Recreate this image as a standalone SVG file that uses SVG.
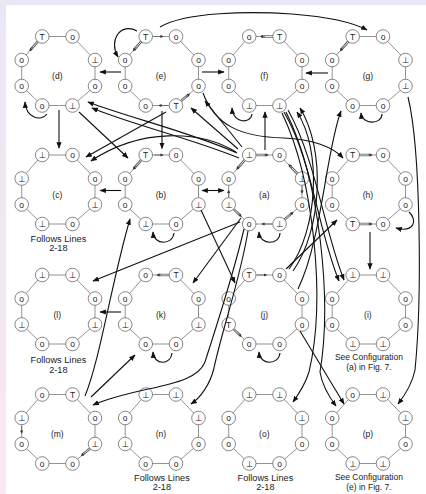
<svg xmlns="http://www.w3.org/2000/svg" width="426" height="494" viewBox="0 0 426 494">
<defs>
<linearGradient id="lg" x1="0" y1="0" x2="0" y2="1"><stop offset="0" stop-color="#ebe6f6"/><stop offset="1" stop-color="#f9e8f1"/></linearGradient>
<marker id="ah" viewBox="0 0 10 10" refX="9" refY="5" markerWidth="6.5" markerHeight="6.5" markerUnits="userSpaceOnUse" orient="auto-start-reverse"><path d="M0,1 L10,5 L0,9 z" fill="#111"/></marker>
<marker id="ta" viewBox="0 0 10 10" refX="8" refY="5" markerWidth="3.2" markerHeight="3.2" markerUnits="userSpaceOnUse" orient="auto"><path d="M0,0 L10,5 L0,10 z" fill="#333"/></marker>
</defs>
<style>
.oct{fill:none;stroke:#666;stroke-width:0.7}
.c{fill:#fff;stroke:#555;stroke-width:0.7}
.t{font-family:"Liberation Sans","DejaVu Sans",sans-serif;font-size:8.5px;text-anchor:middle;fill:#222}
.lb{font-family:"Liberation Sans","DejaVu Sans",sans-serif;font-size:8.5px;text-anchor:middle;fill:#222}
.fl{font-family:"Liberation Sans","DejaVu Sans",sans-serif;font-size:9.2px;text-anchor:middle;fill:#222}
.dbl{fill:none;stroke:#555;stroke-width:2.4}
.dbw{fill:none;stroke:#fff;stroke-width:0.9}
.sa{fill:none;stroke:#555;stroke-width:0.7;marker-end:url(#ta)}
.cn path{fill:none;stroke:#111;stroke-width:1.1;marker-end:url(#ah)}
</style>
<rect width="426" height="494" fill="#fff"/>
<rect width="426" height="5" fill="#ebe6f6"/>
<rect width="6" height="494" fill="url(#lg)"/>

<g id="d">
<polygon class="oct" points="42.2,36.5 72.5,36.5 95,60 95,86 72.5,105.5 42.2,105.5 21.7,86 21.7,60"/>
<path class="dbl" d="M37.9,41.4 L30.5,49.9"/><path class="dbw" d="M37.9,41.4 L30.5,49.9"/><path class="sa" d="M33,47 L29.8,50.7"/>
<circle class="c" cx="42.2" cy="36.5" r="6.8"/><text class="t" x="42.2" y="39.5">T</text>
<circle class="c" cx="72.5" cy="36.5" r="6.8"/><text class="t" x="72.5" y="39.5">o</text>
<circle class="c" cx="95" cy="60" r="6.8"/><text class="t" x="95" y="63">⊥</text>
<circle class="c" cx="95" cy="86" r="6.8"/><text class="t" x="95" y="89">o</text>
<circle class="c" cx="72.5" cy="105.5" r="6.8"/><text class="t" x="72.5" y="108.5">⊥</text>
<circle class="c" cx="42.2" cy="105.5" r="6.8"/><text class="t" x="42.2" y="108.5">o</text>
<circle class="c" cx="21.7" cy="86" r="6.8"/><text class="t" x="21.7" y="89">o</text>
<circle class="c" cx="21.7" cy="60" r="6.8"/><text class="t" x="21.7" y="63">o</text>
<text class="lb" x="57.3" y="79">(d)</text>
</g>

<g id="e">
<polygon class="oct" points="145.7,36.5 176,36.5 198.5,60 198.5,86 176,105.5 145.7,105.5 125.2,86 125.2,60"/>
<path class="sa" d="M154,36.5 L163,36.5"/>
<path class="dbl" d="M141.4,41.4 L134,49.9"/><path class="dbw" d="M141.4,41.4 L134,49.9"/><path class="sa" d="M136.5,47 L133.3,50.7"/>
<path class="dbl" d="M180.9,101.2 L188.7,94.5"/><path class="dbw" d="M180.9,101.2 L188.7,94.5"/><path class="sa" d="M186,96.8 L189.5,93.8"/>
<path class="sa" d="M168,105.5 L159,105.5"/>
<circle class="c" cx="145.7" cy="36.5" r="6.8"/><text class="t" x="145.7" y="39.5">T</text>
<circle class="c" cx="176" cy="36.5" r="6.8"/><text class="t" x="176" y="39.5">o</text>
<circle class="c" cx="198.5" cy="60" r="6.8"/><text class="t" x="198.5" y="63">o</text>
<circle class="c" cx="198.5" cy="86" r="6.8"/><text class="t" x="198.5" y="89">o</text>
<circle class="c" cx="176" cy="105.5" r="6.8"/><text class="t" x="176" y="108.5">T</text>
<circle class="c" cx="145.7" cy="105.5" r="6.8"/><text class="t" x="145.7" y="108.5">o</text>
<circle class="c" cx="125.2" cy="86" r="6.8"/><text class="t" x="125.2" y="89">o</text>
<circle class="c" cx="125.2" cy="60" r="6.8"/><text class="t" x="125.2" y="63">o</text>
<text class="lb" x="160.9" y="79">(e)</text>
</g>

<g id="f">
<polygon class="oct" points="249.2,36.5 279.5,36.5 302,60 302,86 279.5,105.5 249.2,105.5 228.7,86 228.7,60"/>
<path class="dbl" d="M273,36.5 L261.5,36.5"/><path class="dbw" d="M273,36.5 L261.5,36.5"/><path class="sa" d="M265,36.5 L260.5,36.5"/>
<circle class="c" cx="249.2" cy="36.5" r="6.8"/><text class="t" x="249.2" y="39.5">o</text>
<circle class="c" cx="279.5" cy="36.5" r="6.8"/><text class="t" x="279.5" y="39.5">T</text>
<circle class="c" cx="302" cy="60" r="6.8"/><text class="t" x="302" y="63">o</text>
<circle class="c" cx="302" cy="86" r="6.8"/><text class="t" x="302" y="89">o</text>
<circle class="c" cx="279.5" cy="105.5" r="6.8"/><text class="t" x="279.5" y="108.5">⊥</text>
<circle class="c" cx="249.2" cy="105.5" r="6.8"/><text class="t" x="249.2" y="108.5">⊥</text>
<circle class="c" cx="228.7" cy="86" r="6.8"/><text class="t" x="228.7" y="89">o</text>
<circle class="c" cx="228.7" cy="60" r="6.8"/><text class="t" x="228.7" y="63">o</text>
<text class="lb" x="264.3" y="79">(f)</text>
</g>

<g id="g">
<polygon class="oct" points="352.7,36.5 383,36.5 405.5,60 405.5,86 383,105.5 352.7,105.5 332.2,86 332.2,60"/>
<path class="dbl" d="M348.4,41.4 L341,49.9"/><path class="dbw" d="M348.4,41.4 L341,49.9"/><path class="sa" d="M343.5,47 L340.3,50.7"/>
<circle class="c" cx="352.7" cy="36.5" r="6.8"/><text class="t" x="352.7" y="39.5">T</text>
<circle class="c" cx="383" cy="36.5" r="6.8"/><text class="t" x="383" y="39.5">o</text>
<circle class="c" cx="405.5" cy="60" r="6.8"/><text class="t" x="405.5" y="63">⊥</text>
<circle class="c" cx="405.5" cy="86" r="6.8"/><text class="t" x="405.5" y="89">⊥</text>
<circle class="c" cx="383" cy="105.5" r="6.8"/><text class="t" x="383" y="108.5">o</text>
<circle class="c" cx="352.7" cy="105.5" r="6.8"/><text class="t" x="352.7" y="108.5">o</text>
<circle class="c" cx="332.2" cy="86" r="6.8"/><text class="t" x="332.2" y="89">o</text>
<circle class="c" cx="332.2" cy="60" r="6.8"/><text class="t" x="332.2" y="63">o</text>
<text class="lb" x="367.9" y="79">(g)</text>
</g>

<g id="c">
<polygon class="oct" points="42.2,155 72.5,155 95,178.5 95,204.5 72.5,224 42.2,224 21.7,204.5 21.7,178.5"/>
<circle class="c" cx="42.2" cy="155" r="6.8"/><text class="t" x="42.2" y="158">⊥</text>
<circle class="c" cx="72.5" cy="155" r="6.8"/><text class="t" x="72.5" y="158">o</text>
<circle class="c" cx="95" cy="178.5" r="6.8"/><text class="t" x="95" y="181.5">o</text>
<circle class="c" cx="95" cy="204.5" r="6.8"/><text class="t" x="95" y="207.5">⊥</text>
<circle class="c" cx="72.5" cy="224" r="6.8"/><text class="t" x="72.5" y="227">o</text>
<circle class="c" cx="42.2" cy="224" r="6.8"/><text class="t" x="42.2" y="227">⊥</text>
<circle class="c" cx="21.7" cy="204.5" r="6.8"/><text class="t" x="21.7" y="207.5">o</text>
<circle class="c" cx="21.7" cy="178.5" r="6.8"/><text class="t" x="21.7" y="181.5">⊥</text>
<text class="lb" x="57.3" y="197.5">(c)</text>
<text class="fl" x="58.4" y="241.5">Follows Lines</text>
<text class="fl" x="58.4" y="251">2-18</text>
</g>

<g id="b">
<polygon class="oct" points="145.7,155 176,155 198.5,178.5 198.5,204.5 176,224 145.7,224 125.2,204.5 125.2,178.5"/>
<path class="dbl" d="M141.4,159.9 L134,168.4"/><path class="dbw" d="M141.4,159.9 L134,168.4"/><path class="sa" d="M136.5,165.5 L133.3,169.2"/>
<path class="sa" d="M154,155 L163,155"/>
<circle class="c" cx="145.7" cy="155" r="6.8"/><text class="t" x="145.7" y="158">T</text>
<circle class="c" cx="176" cy="155" r="6.8"/><text class="t" x="176" y="158">o</text>
<circle class="c" cx="198.5" cy="178.5" r="6.8"/><text class="t" x="198.5" y="181.5">o</text>
<circle class="c" cx="198.5" cy="204.5" r="6.8"/><text class="t" x="198.5" y="207.5">⊥</text>
<circle class="c" cx="176" cy="224" r="6.8"/><text class="t" x="176" y="227">o</text>
<circle class="c" cx="145.7" cy="224" r="6.8"/><text class="t" x="145.7" y="227">⊥</text>
<circle class="c" cx="125.2" cy="204.5" r="6.8"/><text class="t" x="125.2" y="207.5">o</text>
<circle class="c" cx="125.2" cy="178.5" r="6.8"/><text class="t" x="125.2" y="181.5">o</text>
<text class="lb" x="160.9" y="197.5">(b)</text>
</g>

<g id="a">
<polygon class="oct" points="249.2,155 279.5,155 302,178.5 302,204.5 279.5,224 249.2,224 228.7,204.5 228.7,178.5"/>
<path class="dbl" d="M255.7,155 L267,155"/><path class="dbw" d="M255.7,155 L267,155"/><path class="sa" d="M264,155 L268,155"/>
<path class="dbl" d="M244.9,159.9 L237.5,168.4"/><path class="dbw" d="M244.9,159.9 L237.5,168.4"/><path class="sa" d="M240,165.5 L236.8,169.2"/>
<path class="sa" d="M228.7,197 L228.7,190.5"/>
<path class="dbl" d="M233.4,209 L240.5,215.7"/><path class="dbw" d="M233.4,209 L240.5,215.7"/><path class="sa" d="M238,213.4 L241.3,216.5"/>
<path class="sa" d="M272,224 L262,224"/>
<path class="dbl" d="M297.5,173.8 L289.5,165.4"/><path class="dbw" d="M297.5,173.8 L289.5,165.4"/><path class="sa" d="M292,168 L288.8,164.6"/>
<path class="sa" d="M302,186 L302,193"/>
<path class="dbl" d="M284.4,219.7 L292.3,212.9"/><path class="dbw" d="M284.4,219.7 L292.3,212.9"/><path class="sa" d="M289.5,215.3 L293,212.3"/>
<circle class="c" cx="249.2" cy="155" r="6.8"/><text class="t" x="249.2" y="158">⊥</text>
<circle class="c" cx="279.5" cy="155" r="6.8"/><text class="t" x="279.5" y="158">o</text>
<circle class="c" cx="302" cy="178.5" r="6.8"/><text class="t" x="302" y="181.5">⊥</text>
<circle class="c" cx="302" cy="204.5" r="6.8"/><text class="t" x="302" y="207.5">o</text>
<circle class="c" cx="279.5" cy="224" r="6.8"/><text class="t" x="279.5" y="227">⊥</text>
<circle class="c" cx="249.2" cy="224" r="6.8"/><text class="t" x="249.2" y="227">o</text>
<circle class="c" cx="228.7" cy="204.5" r="6.8"/><text class="t" x="228.7" y="207.5">⊥</text>
<circle class="c" cx="228.7" cy="178.5" r="6.8"/><text class="t" x="228.7" y="181.5">o</text>
<text class="lb" x="264.3" y="197.5">(a)</text>
</g>

<g id="h">
<polygon class="oct" points="352.7,155 383,155 405.5,178.5 405.5,204.5 383,224 352.7,224 332.2,204.5 332.2,178.5"/>
<path class="dbl" d="M359.2,155 L371,155"/><path class="dbw" d="M359.2,155 L371,155"/><path class="sa" d="M368,155 L372,155"/>
<path class="dbl" d="M359.2,224 L371,224"/><path class="dbw" d="M359.2,224 L371,224"/><path class="sa" d="M368,224 L372,224"/>
<circle class="c" cx="352.7" cy="155" r="6.8"/><text class="t" x="352.7" y="158">T</text>
<circle class="c" cx="383" cy="155" r="6.8"/><text class="t" x="383" y="158">o</text>
<circle class="c" cx="405.5" cy="178.5" r="6.8"/><text class="t" x="405.5" y="181.5">o</text>
<circle class="c" cx="405.5" cy="204.5" r="6.8"/><text class="t" x="405.5" y="207.5">o</text>
<circle class="c" cx="383" cy="224" r="6.8"/><text class="t" x="383" y="227">o</text>
<circle class="c" cx="352.7" cy="224" r="6.8"/><text class="t" x="352.7" y="227">T</text>
<circle class="c" cx="332.2" cy="204.5" r="6.8"/><text class="t" x="332.2" y="207.5">o</text>
<circle class="c" cx="332.2" cy="178.5" r="6.8"/><text class="t" x="332.2" y="181.5">o</text>
<text class="lb" x="367.9" y="197.5">(h)</text>
</g>

<g id="l">
<polygon class="oct" points="42.2,275 72.5,275 95,298.5 95,324.5 72.5,344 42.2,344 21.7,324.5 21.7,298.5"/>
<circle class="c" cx="42.2" cy="275" r="6.8"/><text class="t" x="42.2" y="278">⊥</text>
<circle class="c" cx="72.5" cy="275" r="6.8"/><text class="t" x="72.5" y="278">⊥</text>
<circle class="c" cx="95" cy="298.5" r="6.8"/><text class="t" x="95" y="301.5">o</text>
<circle class="c" cx="95" cy="324.5" r="6.8"/><text class="t" x="95" y="327.5">⊥</text>
<circle class="c" cx="72.5" cy="344" r="6.8"/><text class="t" x="72.5" y="347">o</text>
<circle class="c" cx="42.2" cy="344" r="6.8"/><text class="t" x="42.2" y="347">o</text>
<circle class="c" cx="21.7" cy="324.5" r="6.8"/><text class="t" x="21.7" y="327.5">⊥</text>
<circle class="c" cx="21.7" cy="298.5" r="6.8"/><text class="t" x="21.7" y="301.5">o</text>
<text class="lb" x="57.3" y="317.5">(l)</text>
<text class="fl" x="58.4" y="363">Follows Lines</text>
<text class="fl" x="58.4" y="372.5">2-18</text>
</g>

<g id="k">
<polygon class="oct" points="145.7,275 176,275 198.5,298.5 198.5,324.5 176,344 145.7,344 125.2,324.5 125.2,298.5"/>
<path class="dbl" d="M169.5,275 L158,275"/><path class="dbw" d="M169.5,275 L158,275"/><path class="sa" d="M161.5,275 L157,275"/>
<circle class="c" cx="145.7" cy="275" r="6.8"/><text class="t" x="145.7" y="278">o</text>
<circle class="c" cx="176" cy="275" r="6.8"/><text class="t" x="176" y="278">T</text>
<circle class="c" cx="198.5" cy="298.5" r="6.8"/><text class="t" x="198.5" y="301.5">o</text>
<circle class="c" cx="198.5" cy="324.5" r="6.8"/><text class="t" x="198.5" y="327.5">⊥</text>
<circle class="c" cx="176" cy="344" r="6.8"/><text class="t" x="176" y="347">o</text>
<circle class="c" cx="145.7" cy="344" r="6.8"/><text class="t" x="145.7" y="347">o</text>
<circle class="c" cx="125.2" cy="324.5" r="6.8"/><text class="t" x="125.2" y="327.5">⊥</text>
<circle class="c" cx="125.2" cy="298.5" r="6.8"/><text class="t" x="125.2" y="301.5">o</text>
<text class="lb" x="160.9" y="317.5">(k)</text>
</g>

<g id="j">
<polygon class="oct" points="249.2,275 279.5,275 302,298.5 302,324.5 279.5,344 249.2,344 228.7,324.5 228.7,298.5"/>
<path class="sa" d="M257,275 L266.5,275"/>
<path class="dbl" d="M233.4,329 L240.5,335.7"/><path class="dbw" d="M233.4,329 L240.5,335.7"/><path class="sa" d="M238,333.4 L241.3,336.5"/>
<circle class="c" cx="249.2" cy="275" r="6.8"/><text class="t" x="249.2" y="278">T</text>
<circle class="c" cx="279.5" cy="275" r="6.8"/><text class="t" x="279.5" y="278">o</text>
<circle class="c" cx="302" cy="298.5" r="6.8"/><text class="t" x="302" y="301.5">o</text>
<circle class="c" cx="302" cy="324.5" r="6.8"/><text class="t" x="302" y="327.5">o</text>
<circle class="c" cx="279.5" cy="344" r="6.8"/><text class="t" x="279.5" y="347">o</text>
<circle class="c" cx="249.2" cy="344" r="6.8"/><text class="t" x="249.2" y="347">o</text>
<circle class="c" cx="228.7" cy="324.5" r="6.8"/><text class="t" x="228.7" y="327.5">T</text>
<circle class="c" cx="228.7" cy="298.5" r="6.8"/><text class="t" x="228.7" y="301.5">o</text>
<text class="lb" x="264.3" y="317.5">(j)</text>
</g>

<g id="i">
<polygon class="oct" points="352.7,275 383,275 405.5,298.5 405.5,324.5 383,344 352.7,344 332.2,324.5 332.2,298.5"/>
<circle class="c" cx="352.7" cy="275" r="6.8"/><text class="t" x="352.7" y="278">⊥</text>
<circle class="c" cx="383" cy="275" r="6.8"/><text class="t" x="383" y="278">⊥</text>
<circle class="c" cx="405.5" cy="298.5" r="6.8"/><text class="t" x="405.5" y="301.5">o</text>
<circle class="c" cx="405.5" cy="324.5" r="6.8"/><text class="t" x="405.5" y="327.5">o</text>
<circle class="c" cx="383" cy="344" r="6.8"/><text class="t" x="383" y="347">⊥</text>
<circle class="c" cx="352.7" cy="344" r="6.8"/><text class="t" x="352.7" y="347">⊥</text>
<circle class="c" cx="332.2" cy="324.5" r="6.8"/><text class="t" x="332.2" y="327.5">o</text>
<circle class="c" cx="332.2" cy="298.5" r="6.8"/><text class="t" x="332.2" y="301.5">o</text>
<text class="lb" x="367.9" y="317.5">(i)</text>
<text class="lb" x="368.9" y="360">See Configuration</text>
<text class="lb" x="368.9" y="369.5">(a) in Fig. 7.</text>
</g>

<g id="m">
<polygon class="oct" points="42.2,394.5 72.5,394.5 95,418 95,444 72.5,463.5 42.2,463.5 21.7,444 21.7,418"/>
<path class="sa" d="M21.7,426 L21.7,433"/>
<path class="dbl" d="M90.1,448.3 L82.2,455"/><path class="dbw" d="M90.1,448.3 L82.2,455"/><path class="sa" d="M84.8,452.8 L81.4,455.7"/>
<circle class="c" cx="42.2" cy="394.5" r="6.8"/><text class="t" x="42.2" y="397.5">o</text>
<circle class="c" cx="72.5" cy="394.5" r="6.8"/><text class="t" x="72.5" y="397.5">T</text>
<circle class="c" cx="95" cy="418" r="6.8"/><text class="t" x="95" y="421">o</text>
<circle class="c" cx="95" cy="444" r="6.8"/><text class="t" x="95" y="447">⊥</text>
<circle class="c" cx="72.5" cy="463.5" r="6.8"/><text class="t" x="72.5" y="466.5">o</text>
<circle class="c" cx="42.2" cy="463.5" r="6.8"/><text class="t" x="42.2" y="466.5">o</text>
<circle class="c" cx="21.7" cy="444" r="6.8"/><text class="t" x="21.7" y="447">o</text>
<circle class="c" cx="21.7" cy="418" r="6.8"/><text class="t" x="21.7" y="421">⊥</text>
<text class="lb" x="57.3" y="437">(m)</text>
</g>

<g id="n">
<polygon class="oct" points="145.7,394.5 176,394.5 198.5,418 198.5,444 176,463.5 145.7,463.5 125.2,444 125.2,418"/>
<circle class="c" cx="145.7" cy="394.5" r="6.8"/><text class="t" x="145.7" y="397.5">⊥</text>
<circle class="c" cx="176" cy="394.5" r="6.8"/><text class="t" x="176" y="397.5">⊥</text>
<circle class="c" cx="198.5" cy="418" r="6.8"/><text class="t" x="198.5" y="421">⊥</text>
<circle class="c" cx="198.5" cy="444" r="6.8"/><text class="t" x="198.5" y="447">o</text>
<circle class="c" cx="176" cy="463.5" r="6.8"/><text class="t" x="176" y="466.5">o</text>
<circle class="c" cx="145.7" cy="463.5" r="6.8"/><text class="t" x="145.7" y="466.5">o</text>
<circle class="c" cx="125.2" cy="444" r="6.8"/><text class="t" x="125.2" y="447">⊥</text>
<circle class="c" cx="125.2" cy="418" r="6.8"/><text class="t" x="125.2" y="421">o</text>
<text class="lb" x="160.9" y="437">(n)</text>
<text class="fl" x="161.9" y="480.5">Follows Lines</text>
<text class="fl" x="161.9" y="490">2-18</text>
</g>

<g id="o">
<polygon class="oct" points="249.2,394.5 279.5,394.5 302,418 302,444 279.5,463.5 249.2,463.5 228.7,444 228.7,418"/>
<circle class="c" cx="249.2" cy="394.5" r="6.8"/><text class="t" x="249.2" y="397.5">⊥</text>
<circle class="c" cx="279.5" cy="394.5" r="6.8"/><text class="t" x="279.5" y="397.5">⊥</text>
<circle class="c" cx="302" cy="418" r="6.8"/><text class="t" x="302" y="421">⊥</text>
<circle class="c" cx="302" cy="444" r="6.8"/><text class="t" x="302" y="447">o</text>
<circle class="c" cx="279.5" cy="463.5" r="6.8"/><text class="t" x="279.5" y="466.5">o</text>
<circle class="c" cx="249.2" cy="463.5" r="6.8"/><text class="t" x="249.2" y="466.5">⊥</text>
<circle class="c" cx="228.7" cy="444" r="6.8"/><text class="t" x="228.7" y="447">o</text>
<circle class="c" cx="228.7" cy="418" r="6.8"/><text class="t" x="228.7" y="421">o</text>
<text class="lb" x="264.3" y="437">(o)</text>
<text class="fl" x="265.4" y="480.5">Follows Lines</text>
<text class="fl" x="265.4" y="490">2-18</text>
</g>

<g id="p">
<polygon class="oct" points="352.7,394.5 383,394.5 405.5,418 405.5,444 383,463.5 352.7,463.5 332.2,444 332.2,418"/>
<circle class="c" cx="352.7" cy="394.5" r="6.8"/><text class="t" x="352.7" y="397.5">o</text>
<circle class="c" cx="383" cy="394.5" r="6.8"/><text class="t" x="383" y="397.5">⊥</text>
<circle class="c" cx="405.5" cy="418" r="6.8"/><text class="t" x="405.5" y="421">⊥</text>
<circle class="c" cx="405.5" cy="444" r="6.8"/><text class="t" x="405.5" y="447">o</text>
<circle class="c" cx="383" cy="463.5" r="6.8"/><text class="t" x="383" y="466.5">⊥</text>
<circle class="c" cx="352.7" cy="463.5" r="6.8"/><text class="t" x="352.7" y="466.5">⊥</text>
<circle class="c" cx="332.2" cy="444" r="6.8"/><text class="t" x="332.2" y="447">o</text>
<circle class="c" cx="332.2" cy="418" r="6.8"/><text class="t" x="332.2" y="421">o</text>
<text class="lb" x="367.9" y="437">(p)</text>
<text class="lb" x="368.9" y="480">See Configuration</text>
<text class="lb" x="368.9" y="489.5">(e) in Fig. 7.</text>
</g>

<g id="connectors" class="cn">
<path d="M160,27 C185,12 250,11 292,14 C330,17 354,23 367,30"/>
<path d="M121,72 L100,72"/>
<path d="M202,72 L224,72"/>
<path d="M328,73 L306,73"/>
<path d="M59,110 L59,148"/>
<path d="M162,111 L162,148.5"/>
<path d="M265,150 L265,112"/>
<path d="M121,190.5 L100,190.5"/>
<path d="M202,190.5 L224,190.5" style="marker-start:url(#ah)"/>
<path d="M370,232 L370,269"/>
<path d="M121,312 L100,312"/>
<path d="M47,114 C41,122 26,118 25,102"/>
<path d="M137,31 C121,22 108,40 118,57"/>
<path d="M252,114 C251,124 233,124 232,108"/>
<path d="M382,114 C382,125 362,125 361,113"/>
<path d="M174,233 C173,245 154,246 153,232"/>
<path d="M280,233 C280,245 260,246 259,232"/>
<path d="M409,212 C418,220 414,233 396,228"/>
<path d="M172,353 C171,365 154,366 153,352"/>
<path d="M280,353 C279,365 260,366 259,352"/>
<path d="M79,112 L128,158"/>
<path d="M166,112 L86,157"/>
<path d="M236,152 C200,130 140,128 91,161"/>
<path d="M237,153 C190,132 130,118 88,102"/>
<path d="M239,158 C190,138 130,124 92,108"/>
<path d="M238,149 L191,108"/>
<path d="M242,147 L205,101"/>
<path d="M203,93 C215,125 240,137 284,138 C312,139 333,147 343,158"/>
<path d="M240,222 L93,281"/>
<path d="M241,218 L193,283"/>
<path d="M201,210 L235,283"/>
<path d="M244,229 C232,280 215,330 205,362 C195,388 140,385 93,405"/>
<path d="M248,231 C240,280 222,330 214,368 C210,385 200,398 191,404"/>
<path d="M85,396 C100,360 112,280 130,219"/>
<path d="M91,397 L135,355"/>
<path d="M286,269 L337,220"/>
<path d="M298,289 C322,240 326,150 341,111"/>
<path d="M289,269 C318,230 322,150 297,112"/>
<path d="M293,271 C322,230 326,150 300,108"/>
<path d="M284,112 C312,160 318,230 339,281"/>
<path d="M288,110 C316,160 324,230 344,280"/>
<path d="M282,113 C314,180 326,300 309,372 C305,385 298,395 293,402"/>
<path d="M286,112 C320,180 332,300 320,372 C322,385 330,398 336,406"/>
<path d="M300,331 L344,404"/>
<path d="M408,97 C421,150 422,300 415,370 C412,385 405,395 398,404"/>
</g>
</svg>
